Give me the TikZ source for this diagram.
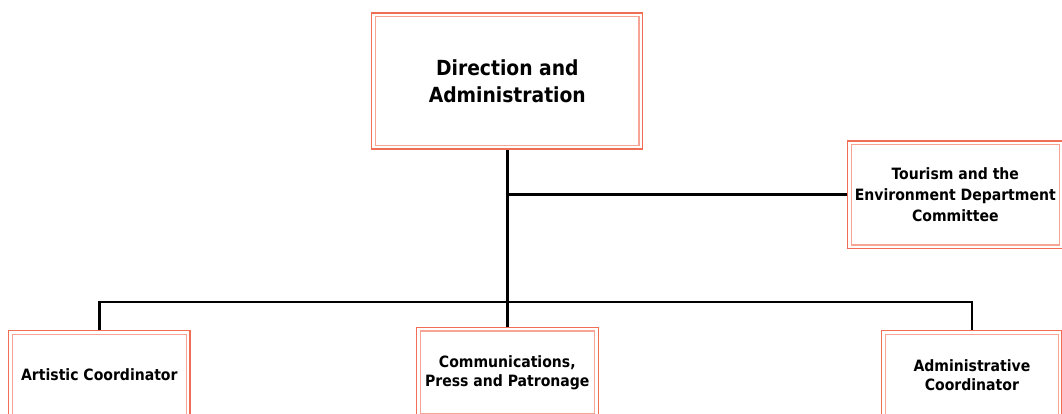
\documentclass[tikz,border=0pt]{standalone}
\usepackage{fontspec}
\setmainfont{DejaVu Sans Condensed}
\definecolor{outerc}{RGB}{240,110,86}
\definecolor{innerc}{RGB}{246,164,148}
\begin{document}
\begin{tikzpicture}[x=1pt,y=-1pt,
  box/.style={draw=outerc, line width=1.3pt, inner sep=0pt, align=center,
    font=\bfseries\fontsize{15.6}{19}\selectfont},
  bigbox/.style={box, font=\bfseries\fontsize{20.8}{26.7}\selectfont},
  innerline/.style={draw=innerc, line width=1.3pt},
  conn/.style={draw=black, line width=2.8pt, line join=miter}]
\useasboundingbox (0,0) rectangle (1062,414);
\clip (0,0) rectangle (1062,414);
\node[bigbox, minimum width=271pt, minimum height=136pt] (dir) at (507.3,81) {Direction and\\Administration};
\node[box, minimum width=215.5pt, minimum height=107.5pt, font=\bfseries\fontsize{15.6}{21}\selectfont] (tour) at (955.3,194.75) {Tourism and the\\Environment Department\\Committee};
\node[box, minimum width=181.3pt, minimum height=88.6pt] (art) at (99.35,375) {Artistic Coordinator};
\node[box, minimum width=181.7pt, minimum height=90.4pt] (comm) at (507.3,372.5) {Communications,\\Press and Patronage};
\node[box, minimum width=180.3pt, minimum height=88.6pt] (adm) at (971.9,375) {Administrative\\Coordinator};
\foreach \n in {dir,tour,art,comm,adm}{
  \draw[innerline] ([xshift=4.5pt,yshift=-4.3pt]\n.north west) rectangle ([xshift=-4.5pt,yshift=4.3pt]\n.south east);
}
\coordinate (bus) at (507.3,302);
\coordinate (branch) at (dir.south |- tour.west);
\draw[conn] (dir.south) -- (comm.north);
\draw[conn] (branch) -- (tour.west);
\draw[conn] (art.north) |- (bus) -| (adm.north);
\end{tikzpicture}
\end{document}
